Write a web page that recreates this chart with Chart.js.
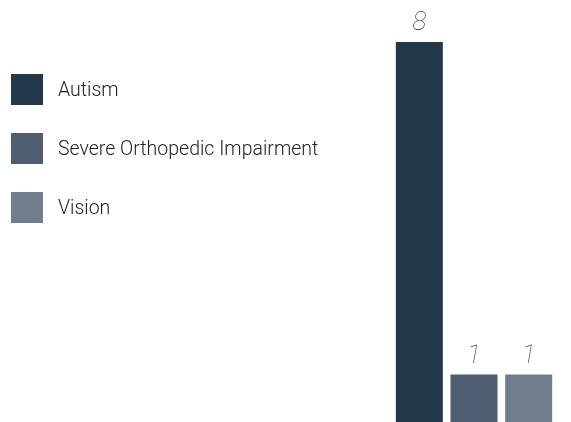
<!DOCTYPE html>
<html>
<head>
<meta charset="utf-8">
<script src="https://cdn.jsdelivr.net/npm/chart.js@4"></script>
<style>
  html, body { margin: 0; padding: 0; background: #fff; }
  #wrap { position: relative; width: 571px; height: 422px; }
  #grafico { position: absolute; left: 0; top: 0; }
  #legenda { position: absolute; left: 11px; top: 74px; font-family: Roboto, sans-serif; font-weight: 300; font-size: 19.5px; color: #222; }
  .item { display: flex; align-items: center; height: 31px; margin-bottom: 28px; }
  .caixa { width: 32px; height: 31px; margin-right: 15px; }
</style>
</head>
<body>
<div id="wrap">
  <canvas id="grafico" width="571" height="422"></canvas>
  <div id="legenda"></div>
</div>
<script>
// categorias e valores
const categorias = ["Autism", "Severe Orthopedic Impairment", "Vision"];
const valores = [8, 1, 1];
const cores = ["#23374b", "#4e5e70", "#6f7d8c"];

// legenda em HTML
const legenda = document.getElementById("legenda");
categorias.forEach((cat, i) => {
    const item = document.createElement("div");
    item.className = "item";
    const caixa = document.createElement("div");
    caixa.className = "caixa";
    caixa.style.background = cores[i];
    const txt = document.createElement("span");
    txt.textContent = cat;
    item.appendChild(caixa);
    item.appendChild(txt);
    legenda.appendChild(item);
});

// rótulos de valor acima das barras
const rotulos = {
    id: "rotulos",
    afterDatasetsDraw(chart) {
        const ctx = chart.ctx;
        const meta = chart.getDatasetMeta(0);
        ctx.save();
        ctx.font = "italic 100 26px Roboto, sans-serif";
        ctx.fillStyle = "#444";
        ctx.textAlign = "center";
        ctx.textBaseline = "alphabetic";
        meta.data.forEach((bar, i) => {
            ctx.fillText(String(valores[i]), bar.x, bar.y - 12);
        });
        ctx.restore();
    }
};

const ctx = document.getElementById("grafico").getContext("2d");
new Chart(ctx, {
    type: "bar",
    data: {
        labels: categorias,
        datasets: [{
            data: valores,
            backgroundColor: cores,
            barPercentage: 0.86,
            categoryPercentage: 1
        }]
    },
    options: {
        responsive: false,
        animation: false,
        layout: { padding: { left: 392, right: 15, top: 42, bottom: 0 } },
        plugins: {
            legend: { display: false },
            tooltip: { enabled: false }
        },
        scales: {
            x: { display: false },
            y: { display: false, min: 0, max: 8 }
        }
    },
    plugins: [rotulos]
});
</script>
</body>
</html>
